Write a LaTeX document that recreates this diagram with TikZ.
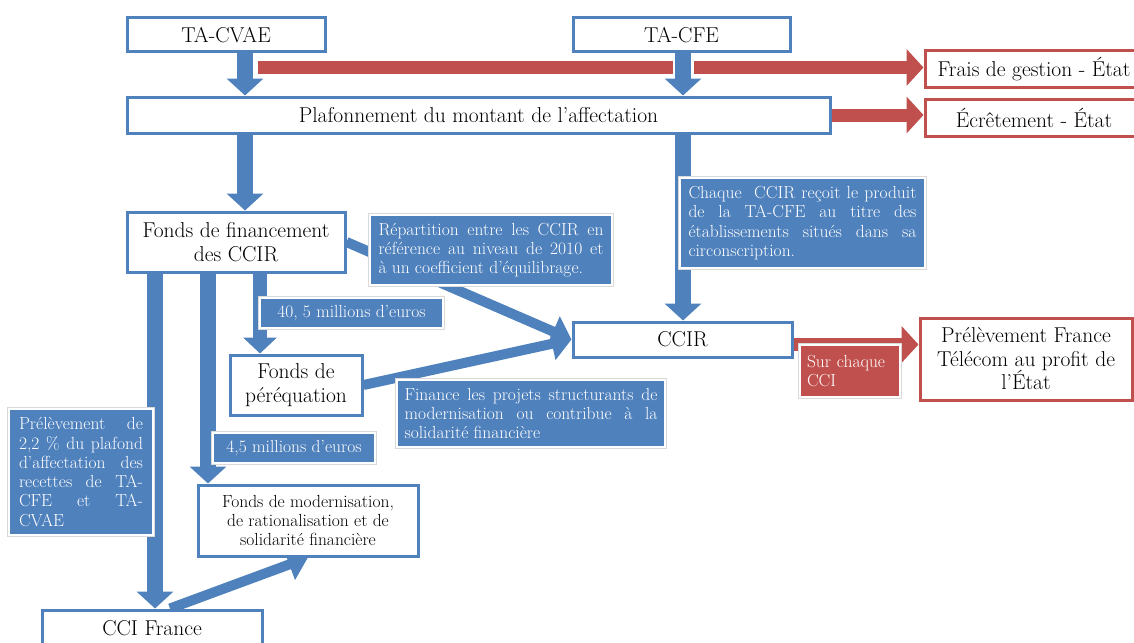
\documentclass[tikz,border=0pt]{standalone}
\usetikzlibrary{arrows.meta}
\definecolor{nblue}{RGB}{79,129,189}
\definecolor{nred}{RGB}{192,80,77}
\hyphenpenalty=10000
\begin{document}
\begin{tikzpicture}[x=1pt,y=-1pt,
  box/.style={draw=nblue, line width=3pt, fill=white, inner sep=0pt, align=center, text=black,
              font=\fontsize{21.5}{23.5}\selectfont},
  redbox/.style={box, draw=nred},
  note/.style={fill=nblue, draw=white, line width=1.5pt, preaction={draw=black!15, line width=3.5pt},
               text=white, inner sep=0pt, font=\fontsize{17.5}{19.3}\selectfont},
  rednote/.style={note, fill=nred},
  barrow/.style={draw=nblue, line width=16pt, -{Triangle[length=17pt,width=36pt]}},
  narrow/.style={draw=nblue, line width=14pt, -{Triangle[length=16pt,width=33pt]}},
  darrow/.style={draw=nblue, line width=10pt, -{Triangle[length=20pt,width=32pt]}},
  rarrow/.style={draw=nred, line width=13pt, -{Triangle[length=17pt,width=36pt]}},
]
\useasboundingbox (0,0) rectangle (1134,642);

% ---------- boxes (placed first for anchors, redrawn later on top) ----------
\path
  node[box, minimum width=198pt, minimum height=34pt] (cvae) at (226,35) {}
  node[box, minimum width=217pt, minimum height=34pt] (cfe) at (681.5,35) {}
  node[box, minimum width=703pt, minimum height=36pt] (plaf) at (478.5,115) {}
  node[redbox, minimum width=218pt, minimum height=36pt] (frais) at (1034,69) {}
  node[redbox, minimum width=218pt, minimum height=37pt] (ecret) at (1034,118) {}
  node[box, minimum width=218pt, minimum height=60pt] (fonds) at (236,242) {}
  node[box, minimum width=219pt, minimum height=35pt] (ccir) at (682.5,339.5) {}
  node[box, minimum width=132pt, minimum height=60pt] (pereq) at (296,385) {}
  node[redbox, minimum width=212pt, minimum height=82pt] (pft) at (1026,359) {}
  node[box, minimum width=220pt, minimum height=71pt] (fmod) at (308,520.5) {}
  node[box, minimum width=220pt, minimum height=36pt] (ccif) at (152,628) {};

\coordinate (xL) at (245,0);
\coordinate (xR) at (683,0);
\coordinate (xP) at (260,0);
\coordinate (xC) at (155,0);
\coordinate (xM) at (208,0);
\coordinate (rs) at (258,67.5);
\coordinate (rc) at ([yshift=-5pt]ccir.east);
\coordinate (cs) at ([xshift=18pt]ccif.north);

% ---------- arrows ----------
\draw[rarrow] (rs) -- (frais.west |- rs);
\draw[white, line width=21pt] ([yshift=-3pt]cfe.south -| xR) -- ([yshift=-32pt]cfe.south -| xR);
\draw[barrow] (cvae.south -| xL) -- (plaf.north -| xL);
\draw[barrow] (cfe.south -| xR) -- (plaf.north -| xR);
\draw[rarrow] (plaf.east) -- (ecret.west |- plaf.east);
\draw[barrow] (plaf.south -| xL) -- (fonds.north -| xL);
\draw[barrow] (plaf.south -| xR) -- (ccir.north -| xR);
\draw[narrow] (fonds.south -| xP) -- (pereq.north -| xP);
\draw[barrow] (fonds.south -| xC) -- (ccif.north -| xC);
\draw[barrow] (fonds.south -| xM) -- (fmod.north -| xM);
\draw[darrow] (fonds.east) -- (ccir.west);
\draw[darrow] (pereq.east) -- (ccir.west);
\draw[darrow] (cs) -- (fmod.south);
\draw[rarrow] (rc) -- (pft.west |- rc);

% ---------- boxes on top ----------
\node[box, minimum width=198pt, minimum height=34pt] at (cvae) {TA-CVAE};
\node[box, minimum width=217pt, minimum height=34pt] at (cfe) {TA-CFE};
\node[box, minimum width=703pt, minimum height=36pt] at (plaf) {Plafonnement du montant de l’affectation};
\node[redbox, minimum width=218pt, minimum height=36pt] at (frais) {Frais de gestion - État};
\node[redbox, minimum width=218pt, minimum height=37pt] at (ecret) {Écrêtement - État};
\node[box, minimum width=218pt, minimum height=60pt] at (fonds) {Fonds de financement\\des CCIR};
\node[box, minimum width=219pt, minimum height=35pt] at (ccir) {CCIR};
\node[box, minimum width=132pt, minimum height=60pt] at (pereq) {Fonds de\\péréquation};
\node[redbox, minimum width=212pt, minimum height=82pt] at (pft) {Prélèvement France\\Télécom au profit de\\l’État};
\node[box, minimum width=220pt, minimum height=71pt, font=\fontsize{17.5}{18.8}\selectfont] at (fmod)
  {Fonds de modernisation,\\de rationalisation et de\\solidarité financière};
\node[box, minimum width=220pt, minimum height=36pt] at (ccif) {CCI France};

% ---------- notes ----------
\node[note, minimum width=242pt, minimum height=70pt, text width=225pt, align=justify] (repart) at (491,250)
  {Répartition entre les CCIR en\linebreak référence au niveau de 2010 et\linebreak à un coefficient d’équilibrage.};
\node[note, minimum width=245pt, minimum height=90pt, text width=228pt, align=justify] (chaque) at (802.5,223)
  {Chaque\ \ CCIR reçoit le produit\linebreak de la \mbox{TA-CFE} au titre des\linebreak établissements situés dans sa\linebreak circonscription.};
\node[note, minimum width=183pt, minimum height=30pt, align=center] (m40) at (351.5,313) {40, 5 millions d’euros};
\node[note, minimum width=268pt, minimum height=67pt, text width=253pt, align=justify] (finance) at (531,413.5)
  {Finance les projets structurants de\linebreak modernisation ou contribue à la\linebreak solidarité financière};
\node[rednote, minimum width=100pt, minimum height=52pt, text width=86pt, align=left] (sur) at (850,371)
  {Sur chaque\\CCI};
\node[note, minimum width=144pt, minimum height=126pt, text width=124pt, align=justify] (p22) at (81,472)
  {Prélèvement de\linebreak 2,2~\% du plafond\linebreak d’affectation des\linebreak recettes de TA-\linebreak CFE et TA-\linebreak CVAE};
\node[note, minimum width=162pt, minimum height=30pt, align=center] (m45) at (294,448) {4,5 millions d’euros};
\end{tikzpicture}
\end{document}
